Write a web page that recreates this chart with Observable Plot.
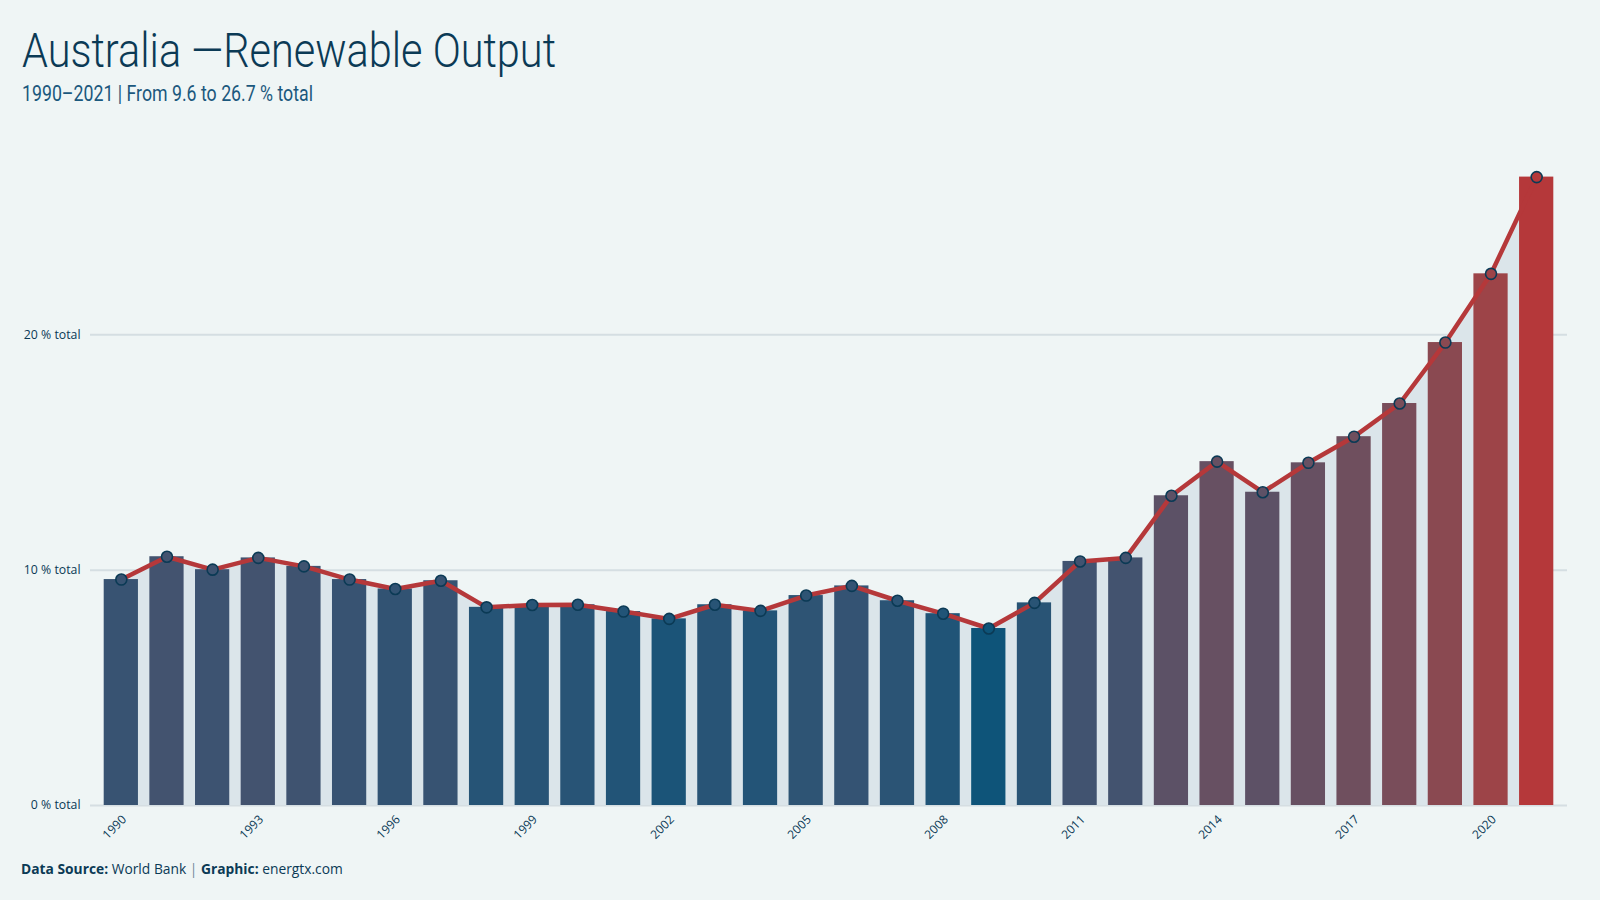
<!DOCTYPE html>
<html>
<head>
<meta charset="utf-8">
<script src="https://cdn.jsdelivr.net/npm/d3@7"></script>
<script src="https://cdn.jsdelivr.net/npm/@observablehq/plot@0.6"></script>
<style>
  html, body { margin: 0; padding: 0; }
  body { width: 1600px; height: 900px; background: #eff5f5; position: relative; overflow: hidden; }
  #title { position: absolute; left: 22px; top: 26px; font-family: Roboto, sans-serif; font-weight: 300; font-size: 49px; line-height: 49px; color: #0b3a55; white-space: nowrap; transform-origin: 0 0; }
  #subtitle { position: absolute; left: 22px; top: 82px; font-family: Roboto, sans-serif; font-size: 22.5px; line-height: 22px; color: #1b587d; white-space: nowrap; transform-origin: 0 0; }
  #chart { position: absolute; left: 0; top: 130px; }
  #footer { position: absolute; left: 21px; top: 860px; font-family: "Open Sans", sans-serif; font-size: 13.8px; line-height: 18px; color: #0b3a55; white-space: nowrap; }
  #footer b { font-weight: 700; }
  #footer .sep { color: #6f8a9a; }
</style>
</head>
<body>
<div id="title">Australia —Renewable Output</div>
<div id="subtitle">1990–2021 | From 9.6 to 26.7 % total</div>
<div id="chart"></div>
<div id="footer"><b>Data Source:</b> World Bank <span class="sep">|</span> <b>Graphic:</b> energtx.com</div>
<script>
const years = [1990, 1991, 1992, 1993, 1994, 1995, 1996, 1997, 1998, 1999, 2000, 2001, 2002, 2003, 2004, 2005,
               2006, 2007, 2008, 2009, 2010, 2011, 2012, 2013, 2014, 2015, 2016, 2017, 2018, 2019, 2020, 2021];
const renewableShare = [9.6, 10.57, 10.02, 10.52, 10.16, 9.6, 9.2, 9.55, 8.42, 8.52, 8.53, 8.24, 7.93, 8.53, 8.27, 8.92,
                        9.33, 8.7, 8.15, 7.52, 8.61, 10.37, 10.52, 13.16, 14.61, 13.31, 14.56, 15.67, 17.08, 19.67, 22.59, 26.7];
const xTickYears = [1990, 1993, 1996, 1999, 2002, 2005, 2008, 2011, 2014, 2017, 2020];
const yTicks = [0, 10, 20];

const data = years.map((year, i) => ({year, value: renewableShare[i]}));
const vmin = d3.min(renewableShare), vmax = d3.max(renewableShare);

// condense title and subtitle to match the narrow typeface of the original
function fitWidth(id, target) {
  const el = document.getElementById(id);
  const w = el.getBoundingClientRect().width;
  el.style.transform = `scaleX(${target / w})`;
}
fitWidth("title", 534);
fitWidth("subtitle", 291);

const chart = Plot.plot({
  width: 1600,
  height: 720,
  marginTop: 16,
  marginBottom: 45,
  marginLeft: 90,
  marginRight: 33,
  style: { background: "transparent", color: "#0b3a55", fontFamily: "'Open Sans', sans-serif", fontSize: "12px" },
  x: { type: "band", domain: years, paddingInner: 0.25, paddingOuter: 0.3, align: 0.5, round: false },
  y: { domain: [0, 28] },
  color: { type: "linear", domain: [vmin, vmax], range: ["#0e5479", "#b5383a"], interpolate: "lab" },
  marks: [
    Plot.ruleY(yTicks, { stroke: "#d5dee2", strokeWidth: 2 }),
    Plot.areaY(data, { x: "year", y: "value", fill: "#dbe5ea" }),
    Plot.barY(data, { x: "year", y: "value", fill: "value" }),
    Plot.lineY(data, { x: "year", y: "value", stroke: "#b5383a", strokeWidth: 4.5 }),
    Plot.dot(data, { x: "year", y: "value", fill: "value", stroke: "#0b3a55", strokeWidth: 1.6, r: 5.5 }),
    Plot.axisY({ ticks: yTicks, tickFormat: d => `${d} % total`, tickSize: 0, tickPadding: 10, label: null, fontSize: 12.3 }),
    Plot.axisX({ ticks: xTickYears, tickFormat: d => String(d), tickRotate: -45, tickSize: 0, tickPadding: 12, dx: 3, label: null, fontSize: 12 })
  ]
});
document.getElementById("chart").appendChild(chart);
</script>
</body>
</html>
